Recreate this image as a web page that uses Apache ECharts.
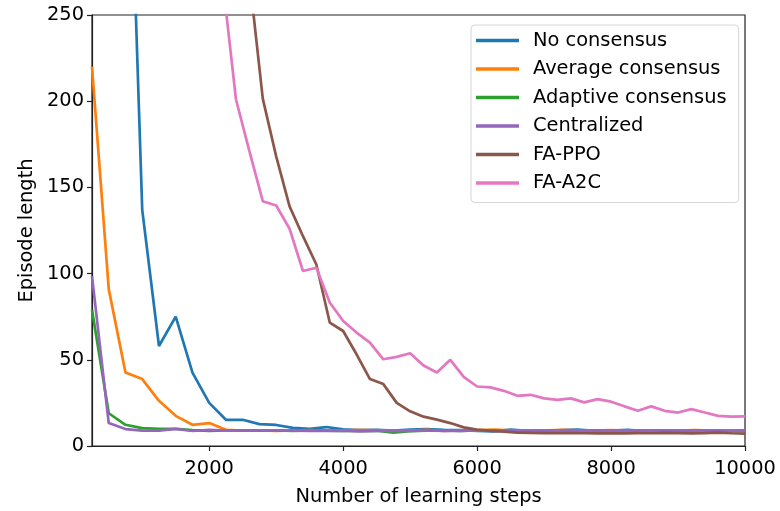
<!DOCTYPE html>
<html>
<head>
<meta charset="utf-8">
<script src="https://cdn.jsdelivr.net/npm/echarts@6/dist/echarts.min.js"></script>
<style>
  html, body { margin: 0; padding: 0; background: #fff; }
  #chart { width: 780px; height: 511px; }
</style>
</head>
<body>
<div id="chart"></div>
<script>
// learning steps, two logging grids
var stepsConsensus = [250, 500, 750, 1000, 1250, 1500, 1750, 2000, 2250, 2500,
    2750, 3000, 3250, 3500, 3750, 4000, 4250, 4500, 4750, 5000,
    5250, 5500, 5750, 6000, 6250, 6500, 6750, 7000, 7250, 7500,
    7750, 8000, 8250, 8500, 8750, 9000, 9250, 9500, 9750, 10000];
var stepsFA = [200, 400, 600, 800, 1000, 1200, 1400, 1600, 1800, 2000,
    2200, 2400, 2600, 2800, 3000, 3200, 3400, 3600, 3800, 4000,
    4200, 4400, 4600, 4800, 5000, 5200, 5400, 5600, 5800, 6000,
    6200, 6400, 6600, 6800, 7000, 7200, 7400, 7600, 7800, 8000,
    8200, 8400, 8600, 8800, 9000, 9200, 9400, 9600, 9800, 10000];

var noConsensus = [560, 510, 435, 137, 58, 75, 42.6, 25, 15.2, 15.2,
    12.7, 12.2, 10.5, 10, 11, 9.6, 9.2, 9.3, 9, 9.5,
    9.8, 9.3, 9.2, 8.8, 8.5, 9.5, 8.8, 9, 9.2, 9.5,
    8.8, 9, 9.3, 8.7, 8.8, 9, 8.6, 8.8, 8.7, 8.6];
var averageConsensus = [220, 91, 42.6, 38.8, 26.2, 17.5, 12.3, 13.3, 9.4, 9,
    9, 8.8, 9, 9.2, 8.9, 9, 9.3, 9.1, 8.7, 9,
    9.4, 8.8, 9, 9.2, 9.5, 9.1, 8.8, 9, 9.3, 9.1,
    8.9, 9.2, 9, 8.8, 9.1, 9, 9.2, 8.9, 9, 8.8];
var adaptiveConsensus = [79, 19, 12.3, 10.4, 9.9, 9.9, 9.2, 8.8, 9, 9.1,
    8.9, 9, 8.8, 9, 8.9, 8.7, 8.8, 8.9, 7.8, 8.6,
    8.9, 9, 8.8, 9, 9.1, 8.9, 8.8, 9, 8.9, 9,
    9.1, 8.8, 9, 8.9, 9, 8.8, 9, 8.9, 8.8, 8.9];
var centralized = [98.5, 13.3, 9.8, 8.9, 8.9, 9.9, 8.7, 9.4, 9, 8.9,
    9, 9.1, 8.9, 8.8, 8.7, 8.9, 8.5, 8.7, 8.9, 8.8,
    9, 8.8, 8.7, 9, 8.9, 8.8, 9, 9.1, 9, 8.9,
    9, 8.8, 9, 8.9, 9, 9.1, 8.9, 9, 8.8, 8.9];
var faPPO = [500, 495, 490, 480, 470, 460, 445, 430, 410, 385,
    350, 310, 272, 201.5, 168, 139, 121.7, 105.3, 71.6, 66.7,
    53.2, 38.8, 35.9, 25, 20.1, 17, 15.3, 13.3, 10.8, 9.5,
    8.8, 8.3, 7.8, 7.6, 7.5, 7.4, 7.5, 7.4, 7.3, 7.4,
    7.3, 7.5, 7.4, 7.6, 7.5, 7.3, 7.5, 7.8, 7.4, 7.2];
var faA2C = [480, 470, 455, 440, 425, 410, 385, 360, 330, 300,
    270, 201, 171, 142, 139.5, 126, 101.5, 103.4, 83.2, 72.5,
    65.8, 60, 50.3, 51.7, 53.8, 46.7, 42.6, 50, 40.1, 34.5,
    34, 32, 29.1, 29.7, 27.6, 26.8, 27.6, 25.3, 27.2, 25.7,
    23, 20.4, 23, 20.4, 19.4, 21.4, 19.4, 17.5, 17, 17.2];

var xTicks = [2000, 4000, 6000, 8000, 10000];

var pair = function(xs, ys) {
    return xs.map(function(x, i) { return [x, ys[i]]; });
};

var font = 'DejaVu Sans';
var fs = 19.4;

var makeLine = function(name, color, xs, ys) {
    return {
        name: name,
        type: 'line',
        data: pair(xs, ys),
        showSymbol: false,
        symbol: 'none',
        clip: true,
        lineStyle: { color: color, width: 2.7 },
        itemStyle: { color: color },
        emphasis: { disabled: true },
        animation: false
    };
};

var chart = echarts.init(document.getElementById('chart'));
chart.setOption({
    backgroundColor: '#fff',
    textStyle: { fontFamily: font },
    grid: {
        left: 92, right: 35, top: 15, bottom: 64,
        show: true, borderColor: '#222', borderWidth: 1.2, backgroundColor: 'transparent'
    },
    legend: {
        orient: 'vertical',
        left: 471,
        top: 25,
        padding: [6, 12, 10, 5],
        itemGap: 9.5,
        itemWidth: 43,
        itemHeight: 3.5,
        icon: 'rect',
        borderColor: '#d6d6d6',
        borderWidth: 1,
        borderRadius: 4,
        backgroundColor: 'rgba(255,255,255,0.85)',
        textStyle: { fontFamily: font, fontSize: fs, color: '#000', lineHeight: 19, padding: [0, 0, 0, 9] },
        data: ['No consensus', 'Average consensus', 'Adaptive consensus', 'Centralized', 'FA-PPO', 'FA-A2C']
    },
    xAxis: {
        type: 'value',
        min: 250,
        max: 10000,
        name: 'Number of learning steps',
        nameLocation: 'middle',
        nameGap: 41,
        nameTextStyle: { fontFamily: font, fontSize: fs, color: '#000' },
        splitLine: { show: false },
        axisLine: { show: true, lineStyle: { color: '#222', width: 1.2 } },
        axisTick: { show: true, length: 5, customValues: xTicks, lineStyle: { color: '#222', width: 1.2 } },
        axisLabel: {
            customValues: xTicks, margin: 13, fontFamily: font, fontSize: fs, color: '#000',
            formatter: function(v) { return String(v); }
        }
    },
    yAxis: {
        type: 'value',
        min: 0,
        max: 250,
        interval: 50,
        name: 'Episode length',
        nameLocation: 'middle',
        nameGap: 52,
        nameTextStyle: { fontFamily: font, fontSize: fs, color: '#000' },
        splitLine: { show: false },
        axisLine: { show: true, lineStyle: { color: '#222', width: 1.2 } },
        axisTick: { show: true, length: 5, lineStyle: { color: '#222', width: 1.2 } },
        axisLabel: { margin: 8, fontFamily: font, fontSize: fs, color: '#000' }
    },
    series: [
        makeLine('No consensus', '#1f77b4', stepsConsensus, noConsensus),
        makeLine('Average consensus', '#ff7f0e', stepsConsensus, averageConsensus),
        makeLine('Adaptive consensus', '#2ca02c', stepsConsensus, adaptiveConsensus),
        makeLine('Centralized', '#9467bd', stepsConsensus, centralized),
        makeLine('FA-PPO', '#8c564b', stepsFA, faPPO),
        makeLine('FA-A2C', '#e377c2', stepsFA, faA2C)
    ]
});
</script>
</body>
</html>
